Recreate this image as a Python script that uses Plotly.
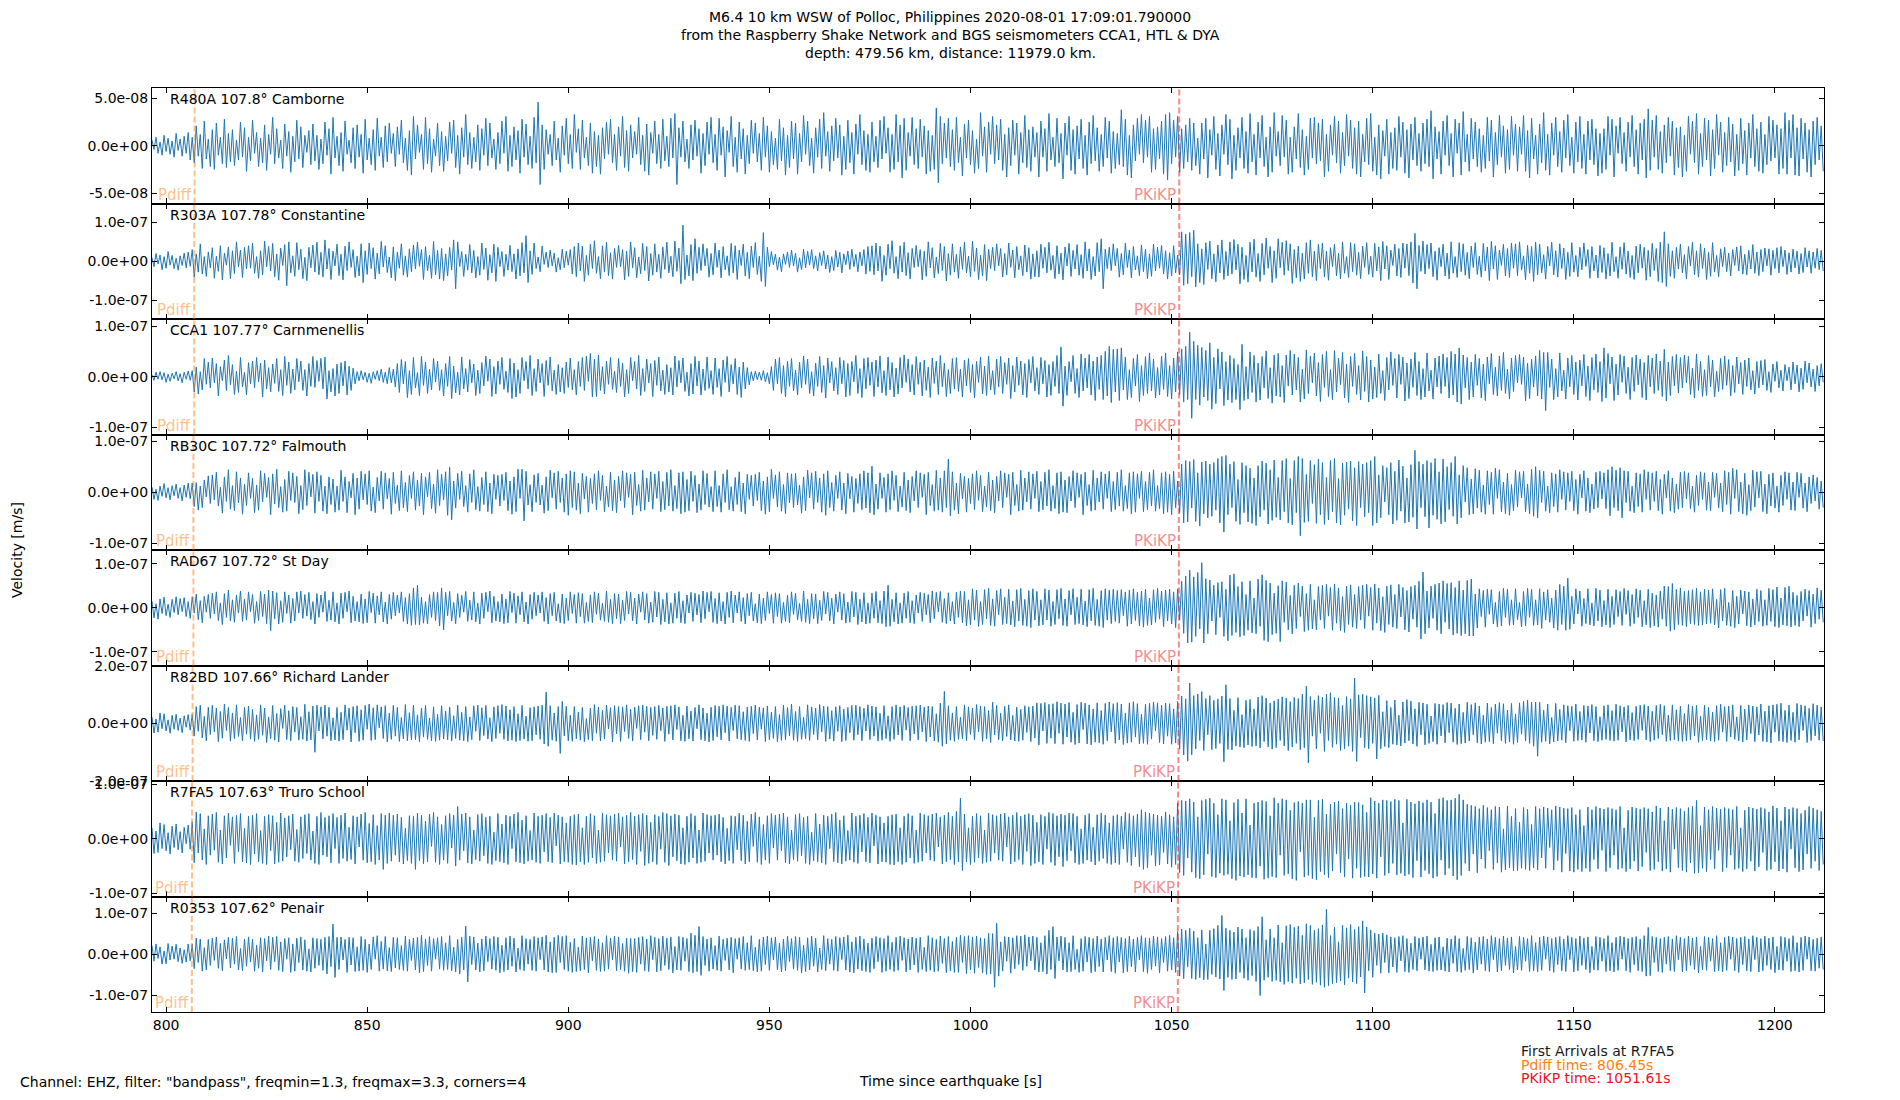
import numpy as np
import plotly.graph_objects as go
from plotly.subplots import make_subplots

# ground velocity, nm/s, one reading every dt seconds from t0
t0 = 796.5
dt = 0.5

r480a = [6,-4,9,-8,4,-10,11,-6,8,-9,5,-12,13,-5,7,-11,10,-8,14,-15,9,-18,21,-11,12,-24,26,-14,7,-22,17,-25,24,-10,9,-19,28,-23,13,-17,
         17,-21,6,-15,25,-12,19,-27,9,-16,27,-8,14,-22,8,-18,22,-26,12,-9,30,-19,18,-13,6,-24,23,-11,15,-28,10,-17,27,-14,20,-23,11,-7,16,-20,
         23,-16,11,-25,7,-19,25,-10,18,-30,30,-13,10,-21,14,-27,26,-9,6,-18,19,-24,22,-12,12,-29,28,-15,8,-20,17,-26,29,-11,9,-23,21,-17,24,-8,
         13,-22,20,-9,27,-18,8,-26,16,-31,31,-14,22,-7,12,-25,30,-19,18,-28,7,-11,24,-21,15,-27,10,-16,25,-8,27,-23,11,-30,19,-12,33,-20,14,-24,
         9,-17,22,-26,18,-10,29,-21,24,-13,7,-25,14,-19,26,-8,31,-27,11,-22,20,-15,16,-29,28,-12,23,-20,10,-24,30,-18,46,-41,22,-25,17,-9,12,-21,
         26,-15,8,-28,21,-10,29,-19,12,-24,33,-7,18,-25,27,-13,9,-21,24,-29,15,-22,11,-30,19,-14,25,-9,28,-18,12,-26,20,-11,31,-23,16,-27,22,-13,
         15,-9,30,-20,11,-27,23,-31,14,-8,26,-19,12,-24,28,-16,10,-22,29,-13,34,-41,19,-12,26,-17,7,-24,22,-15,27,-11,18,-29,13,-21,25,-9,30,-18,
         12,-26,29,-10,20,-33,16,-7,31,-22,9,-28,25,-14,18,-30,11,-19,27,-8,24,-17,13,-26,30,-12,21,-28,15,-20,8,-25,28,-16,19,-31,11,-23,26,-14,
         24,-30,13,-17,32,-9,26,-21,8,-29,19,-12,28,-24,35,-11,15,-27,21,-16,29,-13,22,-31,10,-25,27,-18,14,-30,23,-9,33,-20,16,-26,12,-28,25,-17,
         10,-23,27,-14,31,-8,19,-28,12,-25,33,-17,22,-34,29,-26,14,-11,30,-20,18,-24,28,-12,21,-30,16,-27,11,-25,40,-39,31,-19,24,-13,29,-22,17,-26,
         30,-18,9,-32,23,-13,27,-20,16,-29,7,-24,35,-11,20,-28,25,-9,31,-19,22,-15,28,-26,12,-33,19,-21,27,-10,24,-30,14,-18,32,-23,17,-27,20,-12,
         14,-33,26,-12,18,-27,34,-15,9,-22,29,-18,13,-35,24,-10,31,-26,17,-30,21,-14,28,-24,11,-31,25,-19,32,-16,19,-27,12,-22,30,-13,26,-29,15,-24,
         13,-20,38,-22,28,-31,11,-34,22,-16,29,-9,33,-18,27,-12,31,-28,18,-25,20,-14,26,-30,33,-36,35,-19,27,-12,31,-28,18,-24,22,-17,29,-26,24,-21,
         8,-30,24,-14,29,-34,17,-10,31,-25,13,-32,22,-9,33,-20,28,-35,11,-26,19,-13,30,-24,15,-29,34,-17,12,-31,25,-13,32,-22,9,-33,20,-28,35,-11,
         15,-21,32,-12,27,-30,9,-28,20,-14,34,-23,17,-31,10,-25,29,-13,30,-19,24,-16,28,-33,12,-27,22,-10,31,-18,26,-29,14,-21,33,-11,27,-24,19,-30,
         26,-33,12,-17,29,-20,34,-27,9,-31,22,-35,16,-11,28,-30,14,-24,19,-26,31,-12,25,-29,17,-34,23,-15,30,-21,13,-27,24,-19,28,-22,37,-35,20,-14,
         15,-30,26,-10,32,-21,13,-33,28,-8,24,-31,36,-17,12,-27,29,-14,25,-22,18,-28,11,-24,30,-16,27,-33,14,-20,32,-12,21,-29,17,-25,31,-10,23,-27,
         20,-9,32,-27,16,-34,29,-14,11,-30,23,-18,35,-26,12,-31,24,-10,30,-22,15,-28,27,-13,33,-21,9,-29,25,-17,31,-24,12,-30,26,-15,28,-20,18,-32,
         13,-29,18,-25,31,-10,28,-33,21,-8,30,-19,14,-27,25,-12,32,-22,17,-30,24,-15,28,-34,39,-26,27,-12,32,-25,15,-29,22,-18,30,-11,26,-31,19,-23,
         20,-33,11,-27,31,-9,26,-18,34,-30,13,-22,29,-15,27,-32,17,-24,33,-10,25,-28,14,-21,30,-17,23,-32,12,-26,29,-19,16,-31,24,-13,33,-22,18,-27,
         25,-29,12,-20,31,-16,27,-13,22,-30,18,-24,35,-30,27,-13,33,-31,19,-32,29,-14,24,-28,17,-33,26,-20,30,-15,21,-27]

r303a = [9,-14,20,-7,16,-22,12,-18,25,-10,15,-19,8,-23,14,-11,21,-17,24,-13,30,-41,19,-28,45,-33,12,-39,24,-17,35,-44,13,-26,40,-48,21,-10,37,-45,
         27,-32,50,-15,29,-42,36,-20,40,-18,47,-31,12,-44,27,-35,52,-14,38,-25,46,-40,19,-49,34,-11,43,-63,50,-30,14,-39,48,-22,31,-45,10,-50,36,-17,
         42,-28,49,-35,23,-41,55,-20,33,-47,26,-12,44,-37,18,-48,39,-24,50,-16,30,-42,13,-38,45,-55,27,-34,47,-19,35,-46,21,-33,51,-15,40,-29,11,-43,
         37,-50,24,-18,45,-36,14,-41,32,-27,42,-20,49,-13,30,-47,38,-25,16,-44,51,-35,28,-46,33,-50,19,-38,36,-22,55,-71,50,-14,25,-39,18,-23,43,-30,
         28,-43,12,-36,47,-21,34,-49,17,-30,44,-52,36,-14,25,-39,18,-23,41,-27,19,-46,32,-38,48,-30,66,-55,27,-34,47,-19,11,-27,39,-8,24,-16,29,-12,
         21,-28,9,-22,31,-17,26,-10,30,-33,38,-40,47,-25,39,-52,15,-36,44,-19,53,-31,12,-45,40,-28,49,-37,22,-46,33,-16,41,-14,30,-48,26,-39,50,-17,
         35,-43,11,-32,46,-24,38,-51,20,-36,45,-28,18,-44,37,-21,49,-30,13,-40,52,-26,34,-58,93,-47,16,-38,43,-50,58,-31,36,-24,45,-12,33,-41,20,-35,
         47,-16,29,-43,38,-22,14,-37,46,-30,40,-47,29,-11,44,-38,23,-45,39,-16,48,-34,13,-52,74,-65,36,-14,25,-9,18,-23,11,-27,19,-8,24,-16,29,-12,
         21,-28,9,-22,31,-17,26,-10,30,-19,14,-25,22,-11,27,-20,16,-29,12,-24,28,-15,23,-30,19,-9,26,-21,31,-14,18,-27,24,-12,30,-33,38,-26,40,-35,
         47,-25,39,-52,15,-36,44,-19,53,-31,12,-45,40,-28,49,-37,22,-46,33,-16,41,-14,30,-48,26,-39,50,-17,35,-43,11,-32,46,-24,38,-51,20,-36,45,-28,
         18,-44,37,-21,49,-30,13,-40,52,-26,34,-47,16,-38,43,-50,31,-19,36,-24,45,-12,33,-41,20,-35,47,-16,29,-43,38,-22,14,-37,42,-28,35,-46,19,-40,
         27,-41,44,-18,36,-30,49,-23,15,-45,40,-33,21,-48,37,-12,46,-39,28,-20,43,-36,17,-44,50,-25,32,-47,12,-38,48,-27,58,-71,31,-19,36,-24,45,-12,
         33,-41,20,-35,47,-16,29,-43,38,-22,14,-37,42,-27,31,-45,19,-39,44,-25,36,-18,41,-33,27,-46,22,-38,40,-30,16,-35,76,-62,70,-58,74,-40,80,-66,
         45,-55,32,-60,48,-21,52,-45,19,-53,42,-30,55,-47,25,-38,50,-33,56,-22,44,-58,36,-47,15,-54,49,-28,57,-41,20,-52,46,-35,60,-18,38,-55,27,-44,
         58,-17,49,-36,53,-24,45,-57,30,-43,39,-52,21,-46,48,-31,55,-40,26,-50,44,-19,47,-40,26,-49,35,-14,44,-38,21,-46,50,-31,12,-42,48,-27,45,-36,
         23,-45,39,-16,48,-34,13,-41,46,-25,37,-50,51,-20,40,-47,29,-11,44,-38,33,-42,47,-18,45,-37,50,-56,72,-71,41,-26,52,-33,43,-19,47,-40,26,-49,
         35,-14,44,-38,21,-46,50,-31,12,-42,48,-27,45,-36,23,-45,39,-16,48,-34,13,-41,46,-25,37,-50,51,-20,40,-47,29,-11,44,-38,33,-42,47,-18,45,-37,
         50,-23,14,-48,41,-31,38,-52,49,-35,44,-30,17,-46,38,-12,49,-35,27,-41,45,-19,34,-47,23,-39,48,-28,15,-40,36,-22,47,-13,30,-44,38,-25,16,-43,
         41,-29,35,-46,20,-38,49,-27,12,-44,37,-21,48,-33,26,-42,15,-47,39,-30,44,-18,36,-49,28,-40,46,-24,33,-52,49,-55,76,-65,45,-39,27,-44,36,-20,
         44,-30,17,-46,38,-12,49,-35,27,-41,45,-19,34,-47,23,-39,48,-28,15,-40,32,-14,36,-27,21,-38,30,-11,37,-25,40,-33,18,-35,28,-20,43,-31,24,-37,
         30,-27,34,-12,32,-36,28,-19,35,-30,38,-14,29,-34,22,-28,31,-17,26,-33,20,-29,35,-15,27,-31,24,-18,33,-22,28,-25]

cca1 = [4,-7,9,-5,10,-6,8,-11,5,-9,7,-4,10,-8,6,-12,9,-5,11,-7,12,-30,19,-34,10,-26,36,-15,29,-22,37,-12,26,-38,20,-8,33,-27,42,-16,
        24,-35,11,-31,38,-20,9,-36,28,-14,31,-22,38,-10,27,-40,33,-24,18,-30,25,-13,36,-29,14,-37,40,-17,29,-33,15,-26,36,-10,31,-27,14,-38,26,-19,
        40,-21,32,-9,36,-24,39,-44,12,-30,16,-38,25,-33,28,-18,31,-36,21,-27,17,-14,10,-8,12,-6,9,-11,7,-13,10,-5,12,-8,15,-11,9,-14,18,-12,
        15,-20,26,-31,34,-14,30,-41,12,-35,38,-22,8,-37,40,-17,29,-33,15,-26,36,-10,31,-27,14,-38,26,-19,40,-43,21,-32,9,-36,39,-24,16,-30,34,-12,
        25,-37,13,-33,28,-18,41,-9,35,-39,20,-34,31,-15,38,-25,11,-31,36,-43,27,-40,14,-33,38,-8,30,-24,42,-37,16,-29,35,-12,26,-39,32,-17,39,-28,
        13,-35,24,-30,18,-33,29,-21,37,-26,14,-36,30,-19,38,-27,41,-9,46,-40,35,-39,43,-27,20,-34,31,-15,38,-25,11,-31,36,-19,27,-40,14,-33,38,-8,
        30,-24,42,-37,16,-29,35,-12,26,-39,32,-17,39,-28,13,-35,24,-30,18,-36,41,-20,32,-12,37,-29,9,-38,26,-34,40,-18,31,-36,15,-27,39,-23,12,-35,
        37,-21,16,-39,33,-11,40,-30,24,-14,36,-35,19,-41,29,-24,18,-16,10,-8,11,-6,9,-7,12,-10,8,-14,20,-27,35,-14,38,-33,22,-40,31,-19,36,-28,
        13,-36,29,-22,41,-15,35,-33,10,-38,27,-19,40,-31,22,-42,37,-12,30,-28,18,-35,38,-14,32,-40,26,-37,30,-10,42,-33,16,-41,36,-24,38,-17,29,-39,
        33,-20,41,-32,12,-37,39,-26,28,-40,17,-34,38,-22,43,-11,35,-30,24,-36,40,-15,29,-38,33,-27,19,-41,37,-13,31,-35,42,-20,27,-39,14,-33,36,-24,
        38,-29,15,-40,33,-18,36,-31,24,-42,30,-11,39,-34,21,-37,41,-26,12,-35,35,-20,40,-33,28,-15,37,-43,22,-30,39,-17,31,-36,26,-41,34,-12,40,-28,
        18,-35,38,-14,32,-40,24,-37,30,-19,42,-33,59,-58,21,-37,30,-10,42,-33,16,-41,45,-28,37,-22,44,-36,31,-47,39,-25,42,-45,50,-38,60,-51,54,-30,
        55,-47,57,-26,39,-45,14,-41,36,-18,44,-49,22,-37,40,-33,47,-28,35,-42,18,-36,41,-25,47,-39,22,-44,37,-30,49,-35,55,-50,60,-45,88,-82,70,-45,
        62,-56,58,-40,52,-47,67,-64,38,-53,55,-24,49,-57,30,-46,42,-51,36,-45,24,-65,64,-47,20,-44,49,-31,42,-50,27,-46,40,-22,51,-43,18,-52,43,-38,
        46,-40,22,-51,43,-18,52,-36,45,-26,38,-50,15,-44,53,-33,41,-12,47,-38,28,-49,44,-21,50,-39,14,-45,52,-30,37,-16,48,-42,25,-51,40,-19,46,-35,
        22,-46,51,-29,40,-50,33,-44,19,-41,45,-33,12,-47,38,-26,49,-17,36,-42,44,-15,39,-48,27,-43,35,-21,48,-37,30,-45,16,-40,47,-28,13,-44,37,-20,
        41,-33,45,-19,38,-42,50,-36,45,-50,57,-54,43,-22,38,-45,29,-40,44,-17,36,-42,25,-47,39,-14,46,-35,19,-38,41,-27,48,-33,15,-44,37,-29,42,-12,
        44,-15,39,-48,27,-43,35,-20,41,-38,52,-44,48,-67,48,-21,35,-45,16,-40,47,-28,13,-44,37,-20,42,-35,29,-46,33,-18,44,-39,21,-47,38,-26,45,-31,
        30,-49,57,-42,46,-14,39,-47,25,-36,44,-11,41,-33,19,-45,38,-29,43,-16,35,-41,28,-46,42,-20,37,-33,45,-27,31,-39,54,-48,29,-37,40,-18,44,-32,
        38,-22,43,-12,40,-35,17,-42,45,-27,31,-39,14,-37,42,-20,33,-40,11,-29,36,-25,41,-17,34,-38,22,-31,39,-14,28,-35,33,-19,37,-26,12,-34,30,-22,
        32,-16,34,-27,10,-31,25,-9,30,-22,13,-28,24,-8,19,-26,29,-14,23,-30,17,-25,31,-12,27,-20,15,-29,22,-18,26,-11]

rb30c = [10,-14,6,-16,12,-8,17,-11,9,-15,13,-7,16,-12,9,-17,14,-10,18,-13,18,-28,19,-35,12,-30,24,-9,32,-22,34,-15,39,-27,10,-41,30,-18,44,-33,
         13,-36,40,-21,28,-43,16,-26,38,-12,27,-40,14,-35,42,-19,37,-10,29,-44,36,-23,45,-30,11,-39,25,-37,41,-16,38,-20,31,-42,13,-34,44,-26,39,-9,
         35,-41,40,-18,33,-37,12,-42,30,-24,26,-39,12,-35,43,-18,30,-40,21,-11,37,-44,28,-33,41,-15,36,-24,42,-37,10,-40,29,-17,41,-33,38,-13,27,-43,
         39,-22,14,-36,42,-30,19,-38,33,-12,40,-35,24,-27,37,-44,30,-9,39,-32,16,-41,44,-26,35,-15,40,-45,49,-54,22,-31,37,-14,41,-28,13,-39,36,-20,
         44,-34,11,-37,29,-24,40,-38,18,-42,35,-14,33,-27,35,-16,39,-36,22,-43,30,-38,45,-12,45,-56,41,-25,15,-38,34,-20,37,-25,14,-41,30,-36,43,-11,
         38,-33,41,-20,28,-39,36,-45,42,-30,40,-35,18,-42,37,-13,31,-39,27,-22,36,-34,42,-16,33,-38,12,-29,39,-36,24,-40,31,-17,42,-30,38,-10,35,-44,
         39,-26,15,-37,43,-35,28,-19,40,-33,36,-12,41,-38,21,-34,39,-27,44,-37,13,-32,38,-42,40,-39,25,-36,41,-18,33,-40,16,-35,42,-24,37,-29,11,-38,
         42,-28,13,-39,36,-20,44,-34,11,-37,29,-24,40,-38,18,-42,35,-14,33,-27,35,-16,39,-36,22,-43,30,-38,45,-12,34,-29,40,-37,15,-42,38,-21,36,-30,
         37,-25,14,-41,30,-36,43,-11,38,-33,41,-20,28,-39,36,-45,42,-30,19,-37,33,-12,40,-35,18,-42,37,-13,31,-39,27,-22,36,-34,42,-31,38,-40,51,-44,
         16,-33,38,-12,29,-39,36,-34,42,-16,33,-38,12,-29,39,-36,24,-40,31,-17,42,-30,38,-10,35,-44,39,-26,15,-37,43,-35,28,-39,42,-30,65,-46,40,-35,
         18,-42,37,-13,31,-39,27,-22,36,-34,42,-16,33,-38,12,-29,39,-36,24,-40,31,-17,42,-30,38,-10,35,-44,39,-26,15,-37,43,-35,28,-19,40,-33,36,-12,
         41,-38,21,-34,39,-27,44,-37,13,-32,38,-42,40,-39,24,-40,31,-17,42,-30,38,-10,35,-44,39,-26,15,-37,43,-35,28,-19,40,-33,36,-12,41,-38,21,-34,
         39,-27,44,-37,13,-32,38,-42,40,-39,36,-12,41,-38,21,-34,39,-27,44,-37,13,-32,38,-42,40,-39,35,-44,41,-30,22,-40,55,-60,62,-58,60,-31,64,-57,
         38,-66,59,-42,61,-50,55,-47,58,-35,66,-60,70,-78,72,-44,55,-30,60,-57,25,-63,58,-40,52,-58,47,-61,28,-65,52,-48,61,-35,57,-62,44,-55,63,-49,
         29,-54,62,-38,66,-60,27,-64,62,-40,70,-85,66,-59,35,-57,62,-22,54,-61,65,-44,58,-63,29,-54,62,-38,66,-60,27,-64,57,-45,59,-33,61,-56,48,-65,
         60,-30,55,-48,58,-40,62,-65,70,-60,34,-50,52,-19,48,-44,58,-62,41,-55,63,-37,51,-60,28,-58,54,-49,82,-72,60,-30,55,-48,62,-70,58,-45,66,-53,
         40,-62,65,-58,50,-34,58,-47,70,-62,34,-50,52,-19,48,-44,26,-42,46,-31,43,-39,14,-43,42,-24,39,-43,47,-12,44,-38,20,-42,37,-45,15,-36,43,-29,
         40,-11,41,-38,16,-42,45,-47,50,-50,43,-20,41,-37,12,-40,38,-28,36,-39,44,-14,40,-35,38,-18,41,-36,25,-43,35,-11,42,-37,28,-40,16,-33,39,-30,
         41,-13,38,-32,44,-46,50,-30,43,-36,48,-50,42,-20,41,-37,12,-40,38,-28,36,-39,44,-14,40,-35,38,-18,41,-36,25,-43,35,-11,42,-37,28,-40,16,-33,
         39,-30,41,-13,38,-32,12,-39,33,-26,40,-14,38,-35,20,-36,39,-10,37,-31,18,-38,42,-24,39,-43,47,-12,44,-38,20,-42,37,-45,15,-36,43,-29,40,-11,
         41,-38,16,-42,35,-27,38,-31,12,-39,33,-26,40,-14,38,-35,20,-36,39,-10,37,-31,18,-38,30,-22,34,-17,29,-33,22,-30]

rad67 = [15,-23,9,-26,20,-13,24,-18,8,-22,19,-11,25,-16,21,-9,23,-20,14,-24,25,-12,31,-27,16,-34,26,-10,30,-24,33,-14,36,-29,11,-38,32,-22,40,-30,
         18,-33,29,-12,38,-31,20,-28,36,-9,30,-35,14,-29,37,-20,31,-36,40,-52,38,-25,34,-37,16,-33,36,-13,29,-35,21,-30,36,-12,38,-24,30,-19,35,-27,
         14,-37,32,-22,29,-10,37,-31,17,-28,36,-32,11,-37,33,-24,35,-9,38,-34,26,-30,14,-32,31,-36,20,-34,37,-11,33,-35,27,-16,36,-32,13,-37,30,-26,
         35,-18,29,-12,36,-31,23,-37,32,-40,45,-38,51,-39,24,-35,14,-37,30,-22,36,-29,35,-41,45,-50,35,-18,37,-30,12,-36,32,-22,29,-10,37,-31,17,-28,
         36,-32,11,-37,33,-24,35,-9,38,-34,26,-30,14,-32,31,-36,20,-34,37,-11,33,-35,27,-16,36,-32,13,-37,30,-26,35,-18,29,-12,36,-31,23,-37,32,-18,
         35,-30,9,-34,31,-36,22,-29,36,-13,30,-35,34,-20,32,-35,12,-31,29,-34,36,-15,33,-28,10,-31,38,-33,19,-36,32,-25,31,-36,17,-29,37,-14,35,-30,
         22,-37,31,-10,36,-28,32,-35,13,-33,37,-21,35,-38,19,-32,34,-37,11,-35,33,-24,37,-34,16,-36,29,-12,35,-31,33,-16,30,-34,38,-25,35,-9,37,-33,
         21,-36,34,-30,14,-37,35,-22,38,-34,29,-12,36,-31,23,-37,32,-18,35,-30,9,-34,31,-36,22,-29,36,-13,30,-35,34,-20,32,-35,12,-31,29,-34,36,-15,
         33,-28,10,-31,38,-33,19,-36,32,-25,31,-36,17,-29,37,-14,35,-30,22,-37,31,-10,36,-28,32,-35,13,-33,37,-21,35,-38,19,-32,34,-37,11,-35,33,-24,
         37,-34,16,-36,38,-43,51,-42,19,-32,34,-37,11,-35,33,-24,37,-34,16,-36,29,-12,35,-31,33,-16,30,-34,38,-25,35,-9,37,-33,21,-36,34,-30,14,-37,
         35,-22,38,-34,37,-41,18,-39,43,-28,40,-42,14,-38,41,-25,44,-40,20,-42,39,-16,43,-38,24,-36,42,-39,15,-43,41,-30,44,-40,19,-42,39,-45,43,-28,
         37,-41,18,-39,43,-28,40,-42,14,-38,41,-25,44,-40,20,-42,39,-16,43,-38,24,-36,42,-39,15,-43,41,-30,44,-40,19,-42,39,-45,43,-28,40,-36,42,-31,
         39,-35,41,-18,36,-42,40,-37,43,-29,35,-41,38,-44,42,-40,22,-39,41,-33,44,-26,38,-43,40,-30,42,-37,36,-45,43,-28,60,-58,72,-80,85,-78,70,-65,
         80,-48,102,-80,66,-59,63,-30,51,-61,57,-22,59,-65,42,-75,74,-63,77,-56,48,-66,59,-63,30,-51,61,-57,22,-59,65,-42,75,-74,62,-77,56,-61,33,-58,
         50,-77,61,-33,58,-50,28,-59,51,-47,56,-20,49,-54,32,-51,53,-48,18,-50,48,-28,51,-47,53,-19,46,-51,54,-35,45,-52,25,-56,49,-38,52,-44,30,-47,
         48,-28,51,-47,53,-19,46,-51,54,-35,45,-52,25,-56,49,-38,52,-44,30,-47,53,-21,46,-50,39,-55,48,-26,51,-44,60,-71,81,-59,38,-46,49,-24,53,-51,
         56,-59,61,-33,55,-48,57,-62,46,-58,61,-63,40,-59,62,-64,65,-64,31,-46,43,-20,39,-44,42,-15,41,-37,12,-43,37,-41,44,-22,42,-40,18,-39,43,-27,
         12,-43,37,-41,44,-22,42,-40,18,-39,43,-47,36,-28,41,-33,22,-46,40,-51,53,-38,49,-51,67,-49,26,-37,43,-14,38,-42,21,-36,43,-39,11,-41,44,-30,
         40,-43,16,-39,42,-45,26,-38,41,-20,37,-40,44,-15,39,-42,30,-36,43,-22,40,-43,16,-39,42,-45,33,-41,29,-44,38,-26,49,-42,48,-53,55,-50,42,-38,
         45,-40,37,-43,39,-36,41,-38,44,-40,36,-39,42,-37,40,-35,43,-39,19,-46,41,-30,44,-40,12,-42,39,-45,26,-37,40,-14,38,-41,36,-44,20,-39,42,-31,
         39,-42,18,-40,44,-31,41,-43,47,-45,22,-39,46,-41,49,-44,35,-40,28,-43,37,-30,42,-19,39,-44,31,-36,45,-26,40,-33]

r82bd = [22,-34,15,-31,36,-19,33,-27,12,-35,28,-21,31,-25,18,-33,26,-14,30,-24,31,-45,58,-28,63,-51,24,-61,56,-39,62,-30,53,-64,41,-52,67,-25,55,-62,
         36,-53,64,-46,20,-61,56,-38,60,-55,48,-63,29,-56,64,-42,53,-67,22,-54,62,-59,34,-65,51,-18,63,-57,44,-61,58,-31,55,-59,23,-56,66,-62,40,-58,
         60,-101,63,-27,57,-54,63,-45,56,-61,19,-58,55,-62,38,-57,64,-24,53,-65,58,-33,61,-63,47,-59,62,-21,67,-60,54,-57,64,-16,57,-53,61,-65,35,-56,
         62,-45,55,-63,20,-54,65,-61,37,-58,63,-57,29,-64,53,-48,62,-56,18,-61,57,-63,31,-59,61,-55,42,-58,56,-62,26,-53,63,-59,38,-61,58,-64,22,-57,
         61,-28,63,-60,54,-43,62,-55,19,-64,57,-53,61,-35,65,-56,60,-62,47,-59,58,-64,33,-60,62,-55,25,-63,54,-61,57,-40,60,-56,63,-72,109,-80,61,-59,
         36,-63,58,-105,76,-44,59,-61,28,-63,58,-54,39,-59,55,-64,16,-57,53,-61,65,-35,56,-62,45,-55,63,-20,54,-65,61,-37,58,-63,57,-29,64,-53,48,-62,
         56,-18,61,-57,63,-31,59,-61,55,-42,58,-56,62,-26,53,-63,59,-38,61,-58,64,-22,57,-61,28,-63,60,-54,43,-62,55,-19,64,-57,53,-61,35,-65,56,-60,
         62,-47,59,-58,64,-33,60,-62,55,-25,63,-54,61,-57,40,-60,56,-63,59,-36,63,-58,56,-21,54,-64,60,-57,39,-53,58,-65,30,-60,63,-58,55,-44,67,-59,
         41,-63,58,-56,21,-54,64,-60,57,-39,53,-58,65,-30,60,-63,58,-55,44,-62,57,-28,61,-64,49,-60,55,-33,62,-59,63,-40,58,-61,52,-27,64,-57,60,-45,
         57,-62,35,-59,61,-53,26,-63,58,-56,64,-41,57,-60,62,-24,55,-61,59,-37,61,-58,63,-30,56,-64,60,-48,58,-62,33,-66,70,-80,111,-72,61,-59,36,-63,
         58,-56,21,-54,64,-60,57,-39,53,-58,65,-30,60,-63,58,-55,44,-67,73,-41,62,-57,35,-61,59,-46,64,-58,27,-62,56,-63,48,-59,61,-32,57,-64,60,-51,
         71,-76,69,-27,72,-70,66,-52,68,-71,75,-35,70,-73,67,-48,72,-66,38,-74,65,-69,73,-22,70,-72,64,-75,50,-66,71,-68,44,-73,69,-61,74,-30,68,-70,
         72,-58,67,-74,35,-69,71,-66,75,-48,68,-72,31,-70,66,-73,69,-55,74,-26,71,-67,63,-72,70,-45,68,-73,50,-69,76,-90,95,-110,85,-132,140,-110,96,-89,
         102,-60,110,-95,86,-40,96,-92,80,-88,85,-70,95,-134,134,-91,86,-93,45,-79,89,-83,30,-85,80,-76,83,-81,50,-79,91,-86,96,-64,88,-82,70,-90,78,-85,
         84,-60,92,-79,88,-95,75,-83,90,-70,86,-92,101,-85,129,-138,93,-45,81,-89,96,-35,91,-98,101,-60,106,-84,90,-73,88,-95,62,-89,93,-80,85,-98,157,-133,
         99,-50,101,-85,96,-89,92,-70,88,-124,97,-89,40,-81,79,-85,55,-73,81,-76,28,-79,74,-69,82,-61,77,-72,50,-80,73,-40,71,-75,66,-70,25,-64,69,-73,
         67,-44,65,-68,72,-33,70,-66,52,-74,67,-71,38,-69,73,-62,65,-40,71,-68,60,-72,28,-66,70,-64,55,-71,67,-35,72,-61,68,-70,46,-65,69,-73,31,-67,
         71,-38,76,-62,81,-70,73,-80,74,-115,73,-66,45,-63,67,-71,20,-65,69,-62,48,-59,64,-68,61,-26,59,-63,67,-60,41,-58,62,-66,60,-34,65,-61,58,-64,
         23,-59,61,-56,64,-60,44,-62,66,-59,61,-30,57,-65,62,-58,37,-61,59,-56,63,-25,65,-58,60,-64,42,-59,62,-53,66,-40,61,-63,28,-60,64,-57,47,-62,
         59,-63,34,-61,65,-58,60,-44,62,-66,25,-60,63,-57,55,-62,39,-64,61,-59,66,-31,58,-63,60,-48,64,-56,22,-61,62,-65,49,-58,63,-36,60,-64,57,-41,
         67,-63,42,-65,61,-68,64,-31,66,-62,70,-64,45,-67,63,-60,38,-66,69,-58,64,-25,61,-67,52,-60,68,-44,63,-59,57,-62]

r7fa5 = [20,-27,14,-25,29,-18,26,-22,11,-28,23,-16,27,-20,13,-26,21,-9,25,-19,31,-44,49,-26,46,-39,18,-47,42,-30,45,-21,48,-43,16,-46,42,-35,47,-12,
         40,-45,43,-24,46,-42,19,-44,41,-47,43,-28,46,-42,15,-45,41,-47,44,-22,42,-46,30,-43,47,-41,38,-33,42,-20,45,-41,17,-43,40,-36,44,-27,46,-39,
         14,-45,41,-47,48,-30,39,-33,42,-44,46,-18,39,-45,43,-36,47,-41,21,-38,42,-46,40,-15,45,-39,48,-44,28,-42,44,-47,24,-39,46,-56,43,-45,47,-41,
         43,-30,45,-42,39,-46,19,-40,42,-45,41,-56,47,-40,43,-46,32,-42,45,-14,48,-43,40,-47,26,-39,42,-45,46,-17,43,-50,59,-39,45,-22,47,-44,40,-46,
         16,-38,44,-41,46,-31,39,-45,41,-47,12,-40,46,-42,27,-44,43,-47,41,-18,45,-42,48,-44,34,-46,42,-41,15,-39,47,-43,41,-45,43,-24,46,-42,39,-44,
         47,-13,43,-46,40,-42,29,-43,41,-47,44,-48,45,-42,20,-47,41,-43,46,-35,42,-45,16,-43,47,-41,44,-26,42,-39,45,-41,47,-15,40,-46,43,-42,48,-38,
         41,-47,44,-23,46,-49,43,-45,30,-42,44,-47,41,-19,48,-43,46,-49,42,-33,45,-40,43,-46,20,-47,41,-43,46,-35,42,-45,16,-43,47,-41,44,-26,42,-39,
         43,-30,45,-42,39,-46,19,-40,42,-45,41,-20,47,-40,43,-46,32,-42,45,-14,48,-43,40,-47,26,-39,42,-45,46,-17,43,-39,45,-22,47,-44,40,-46,16,-38,
         44,-41,46,-31,39,-45,41,-47,12,-40,46,-42,27,-44,43,-47,41,-18,45,-42,48,-44,34,-46,42,-41,15,-39,47,-43,41,-45,43,-24,46,-42,39,-44,47,-13,
         43,-46,40,-42,29,-43,41,-47,44,-48,45,-42,20,-47,41,-43,46,-35,42,-45,16,-43,47,-41,44,-26,42,-39,45,-41,47,-15,40,-46,43,-42,48,-38,41,-47,
         50,-42,74,-58,45,-42,20,-47,41,-43,46,-35,42,-45,16,-43,47,-41,44,-26,42,-39,45,-41,47,-15,40,-46,43,-42,48,-38,41,-47,44,-23,46,-49,43,-45,
         30,-42,44,-47,41,-19,48,-43,46,-49,42,-33,45,-51,43,-40,47,-22,46,-44,41,-47,18,-45,43,-39,46,-42,21,-48,44,-41,47,-36,43,-45,29,-47,42,-44,
         44,-47,41,-19,48,-43,46,-49,42,-33,45,-51,53,-56,49,-53,47,-30,45,-50,43,-48,41,-25,49,-46,44,-52,40,-47,65,-62,70,-67,69,-35,73,-61,67,-71,
         40,-73,70,-66,72,-28,74,-69,65,-71,44,-63,73,-67,71,-65,33,-73,66,-76,72,-68,47,-70,73,-66,25,-71,65,-72,67,-50,70,-74,68,-72,42,-69,75,-71,
         65,-30,73,-67,71,-64,52,-73,66,-76,68,-24,65,-70,71,-67,71,-73,39,-75,70,-60,72,-66,45,-71,63,-59,67,-28,69,-62,55,-70,65,-37,61,-72,67,-54,
         66,-71,62,-69,48,-70,75,-64,69,-72,65,-33,71,-67,70,-63,68,-45,72,-66,70,-63,29,-68,72,-65,67,-71,64,-40,69,-70,66,-58,71,-64,67,-72,46,-69,
         73,-39,75,-66,70,-54,71,-68,74,-75,81,-67,71,-45,63,-59,61,-28,59,-62,55,-37,61,-54,57,-22,53,-56,59,-44,58,-61,18,-57,60,-53,41,-59,55,-58,
         30,-54,57,-56,54,-58,26,-53,59,-57,55,-35,58,-54,56,-16,53,-57,60,-40,58,-61,56,-27,55,-59,57,-61,44,-56,53,-60,24,-54,58,-60,53,-38,59,-55,
         56,-21,54,-60,57,-53,55,-30,53,-56,59,-54,20,-60,52,-55,58,-41,56,-59,54,-51,57,-25,55,-58,49,-56,60,-42,56,-59,33,-55,58,-61,54,-19,57,-53,
         55,-58,50,-61,57,-44,59,-63,70,-62,24,-54,58,-60,53,-38,59,-55,56,-21,54,-60,57,-53,55,-30,53,-56,59,-54,20,-60,52,-55,58,-41,56,-59,54,-51,
         57,-25,55,-58,49,-56,60,-42,56,-59,33,-55,58,-61,54,-19,57,-53,55,-60,46,-57,52,-28,59,-54,56,-41,53,-58,50,-47]

r0353 = [21,-17,25,-10,18,-24,8,-23,26,-14,20,-12,24,-18,15,-22,11,-19,25,-16,25,-35,39,-20,37,-41,16,-38,36,-27,39,-15,42,-34,26,-40,35,-11,41,-33,
         39,-24,43,-38,14,-40,37,-29,42,-19,36,-41,22,-34,40,-43,38,-16,44,-37,41,-18,43,-39,30,-42,38,-12,40,-44,25,-41,39,-20,42,-38,35,-41,13,-43,
         40,-34,38,-27,36,-39,41,-48,43,-30,73,-56,41,-37,42,-14,36,-44,41,-26,40,-42,18,-41,43,-39,36,-44,25,-37,42,-12,45,-41,31,-36,43,-40,16,-42,
         41,-33,40,-37,21,-39,44,-41,36,-15,39,-38,41,-45,46,-42,37,-27,43,-41,38,-12,40,-36,43,-39,28,-37,45,-40,17,-43,36,-48,41,-38,68,-67,44,-25,
         42,-38,27,-43,37,-40,44,-18,38,-36,43,-39,41,-45,22,-42,40,-38,44,-29,39,-43,15,-37,45,-40,38,-24,36,-39,43,-41,40,-13,42,-38,46,-43,30,-45,
         41,-44,46,-20,43,-37,45,-41,29,-44,38,-42,17,-40,44,-37,39,-45,41,-16,43,-39,37,-42,28,-41,45,-36,39,-14,44,-40,42,-37,26,-41,39,-46,38,-42,
         38,-44,41,-24,43,-40,37,-42,45,-13,41,-43,38,-40,44,-27,39,-37,42,-45,19,-38,43,-39,41,-17,38,-42,51,-45,46,-42,67,-51,43,-27,37,-41,40,-36,
         21,-39,44,-41,36,-15,39,-38,41,-45,38,-12,40,-36,43,-39,28,-37,45,-40,17,-43,36,-41,42,-25,44,-39,40,-14,42,-38,27,-43,37,-40,44,-18,38,-36,
         43,-39,41,-45,22,-42,40,-38,44,-29,39,-43,15,-37,45,-40,38,-24,36,-39,43,-41,40,-13,42,-38,46,-43,30,-45,41,-36,44,-40,37,-42,27,-44,39,-35,
         43,-18,40,-44,38,-41,45,-37,29,-42,41,-39,44,-15,40,-43,37,-38,42,-26,39,-44,41,-37,17,-42,45,-39,40,-43,36,-41,44,-22,38,-45,43,-40,31,-44,
         41,-44,46,-20,43,-47,45,-38,42,-46,44,-32,40,-45,38,-49,51,-48,50,-80,75,-53,30,-41,43,-17,42,-46,40,-35,45,-25,44,-39,47,-29,42,-16,44,-38,
         41,-43,28,-42,45,-48,58,-37,67,-59,42,-16,44,-38,41,-43,28,-42,45,-37,12,-44,38,-41,43,-19,41,-45,38,-42,44,-30,37,-43,41,-14,45,-42,40,-46,
         43,-19,41,-45,38,-42,44,-30,37,-43,41,-14,45,-42,40,-46,39,-37,44,-28,42,-45,38,-20,43,-41,46,-38,40,-44,55,-53,61,-59,58,-30,63,-59,56,-61,
         40,-57,59,-62,25,-61,58,-49,62,-55,70,-60,94,-88,63,-56,58,-61,54,-60,66,-44,61,-58,40,-63,60,-52,57,-66,67,-100,91,-63,35,-56,61,-66,40,-63,
         71,-67,28,-73,69,-66,72,-70,65,-58,68,-72,46,-69,74,-61,70,-73,58,-68,62,-75,71,-80,109,-76,45,-71,66,-69,30,-65,70,-74,64,-58,72,-67,60,-71,
         67,-55,81,-94,66,-40,59,-56,51,-27,49,-46,51,-20,47,-45,42,-31,40,-44,43,-16,45,-42,38,-44,27,-37,43,-40,39,-12,42,-38,44,-41,24,-42,40,-39,
         42,-38,18,-41,39,-43,37,-22,45,-42,38,-44,14,-39,43,-37,40,-45,29,-38,41,-24,43,-40,37,-42,45,-13,41,-43,38,-40,44,-27,39,-37,42,-45,19,-38,
         43,-39,41,-17,38,-42,45,-40,28,-43,41,-39,44,-12,42,-40,38,-44,41,-25,43,-40,37,-42,45,-13,41,-43,38,-40,44,-27,39,-37,42,-45,19,-38,43,-39,
         41,-17,38,-42,45,-40,28,-43,41,-39,44,-12,42,-40,38,-44,41,-25,43,-40,37,-42,45,-53,65,-52,43,-20,41,-42,38,-44,41,-24,43,-40,37,-42,45,-13,
         41,-43,38,-40,44,-27,39,-37,42,-45,19,-38,43,-39,41,-17,38,-42,45,-40,28,-43,41,-39,44,-12,42,-40,38,-44,41,-25,43,-40,37,-42,45,-13,41,-43,
         38,-40,44,-27,39,-37,42,-45,19,-38,43,-39,41,-17,38,-42,45,-40,28,-43,41,-39,44,-12,42,-40,36,-41,39,-34,42,-37]

stations = ["R480A", "R303A", "CCA1", "RB30C", "RAD67", "R82BD", "R7FA5", "R0353"]
distances = ["107.8", "107.78", "107.77", "107.72", "107.72", "107.66", "107.63", "107.62"]
places = ["Camborne", "Constantine", "Carnmenellis", "Falmouth", "St Day",
          "Richard Lander", "Truro School", "Penair"]
pdiff_times = [807.1, 807.0, 807.0, 806.8, 806.8, 806.6, 806.45, 806.4]
pkikp_times = [1051.9, 1051.9, 1051.85, 1051.8, 1051.8, 1051.7, 1051.61, 1051.55]
ylims = [6.1e-8, 1.49e-7, 1.14e-7, 1.13e-7, 1.31e-7, 2.01e-7, 1.055e-7, 1.4e-7]
ysteps = [5e-8, 1e-7, 1e-7, 1e-7, 1e-7, 2e-7, 1e-7, 1e-7]

traces = [r480a, r303a, cca1, rb30c, rad67, r82bd, r7fa5, r0353]

# page pixels of the plot area; the page body adds an 8px offset
OFF = 8
W, H = 1900 - 2 * OFF, 1100 - 2 * OFF
PL, PR, PT, PB = 152, 1824, 88, 1012


def px(x):
    return (x - PL) / (PR - PL)


def py(y):
    return (PB - y) / (PB - PT)


FONT = "DejaVu Sans"
PD_COL = "rgba(255,127,14,0.5)"
PK_COL = "rgba(240,40,40,0.55)"

fig = make_subplots(rows=8, cols=1, shared_xaxes=True, vertical_spacing=0)

for i, vals in enumerate(traces):
    v = np.array(vals) * 1e-9
    t = t0 + dt * np.arange(len(v))
    fig.add_trace(go.Scatter(x=t, y=v, mode="lines",
                             line=dict(color="#1f77b4", width=1),
                             showlegend=False, hoverinfo="skip"),
                  row=i + 1, col=1)
    s = ysteps[i]
    fig.update_yaxes(range=[-ylims[i], ylims[i]], tickvals=[-s, 0, s],
                     ticktext=[f"{-s:.1e}", f"{0.0:.1e}", f"{s:.1e}"],
                     row=i + 1, col=1)

    xr = "x" if i == 0 else f"x{i + 1}"
    yd = "y domain" if i == 0 else f"y{i + 1} domain"
    for tt, col, lab in [(pdiff_times[i], PD_COL, "Pdiff"), (pkikp_times[i], PK_COL, "PKiKP")]:
        fig.add_shape(type="line", xref=xr, yref=yd, x0=tt, x1=tt, y0=0, y1=1,
                      line=dict(color=col, width=2, dash="6px,3px"))
        fig.add_annotation(x=tt, y=0, xref=xr, yref=yd, text=lab, showarrow=False,
                           xanchor="right", yanchor="bottom", xshift=-1, yshift=-2,
                           font=dict(family=FONT, size=15, color=col))
    fig.add_annotation(x=800.6, y=1, xref=xr, yref=yd,
                       text=f"{stations[i]} {distances[i]}° {places[i]}",
                       showarrow=False, xanchor="left", yanchor="top", yshift=-1,
                       font=dict(family=FONT, size=14, color="black"))

fig.update_xaxes(range=[796.5, 1212.2], tick0=800, dtick=50, ticks="inside", ticklen=5,
                 tickcolor="black", showline=True, linecolor="black", linewidth=1.3,
                 mirror="ticks", showgrid=False, zeroline=False,
                 tickfont=dict(family=FONT, size=14, color="black"))
fig.update_yaxes(ticks="inside", ticklen=5, tickcolor="black", showline=True,
                 linecolor="black", linewidth=1.3, mirror="ticks", showgrid=False,
                 zeroline=False, tickfont=dict(family=FONT, size=14, color="black"))

title_lines = ["M6.4 10 km WSW of Polloc, Philippines 2020-08-01 17:09:01.790000",
               "from the Raspberry Shake Network and BGS seismometers CCA1, HTL & DYA",
               "depth: 479.56 km, distance: 11979.0 km."]
for k, line in enumerate(title_lines):
    fig.add_annotation(x=px(950), y=py(17 + 18 * k), xref="paper", yref="paper",
                       text=line, showarrow=False, xanchor="center", yanchor="middle",
                       font=dict(family=FONT, size=14, color="black"))

fig.add_annotation(x=px(17), y=py(550), xref="paper", yref="paper", text="Velocity [m/s]",
                   textangle=-90, showarrow=False, xanchor="center", yanchor="middle",
                   font=dict(family=FONT, size=14, color="black"))
fig.add_annotation(x=px(950), y=py(1081), xref="paper", yref="paper",
                   text="Time since earthquake [s]", showarrow=False,
                   xanchor="center", yanchor="middle",
                   font=dict(family=FONT, size=14, color="black"))
fig.add_annotation(x=px(18), y=py(1082), xref="paper", yref="paper",
                   text='Channel: EHZ, filter: "bandpass", freqmin=1.3, freqmax=3.3, corners=4',
                   showarrow=False, xanchor="left", yanchor="middle",
                   font=dict(family=FONT, size=14, color="black"))

arrivals = [("First Arrivals at R7FA5", "#1a1a1a"),
            ("Pdiff time: 806.45s", "#ff7f0e"),
            ("PKiKP time: 1051.61s", "#e8141e")]
for k, (txt, col) in enumerate(arrivals):
    fig.add_annotation(x=px(1519), y=py(1051 + 13.5 * k), xref="paper", yref="paper",
                       text=txt, showarrow=False, xanchor="left", yanchor="middle",
                       font=dict(family=FONT, size=14, color=col))

fig.update_layout(width=W, height=H, paper_bgcolor="white", plot_bgcolor="white",
                  margin=dict(l=PL - OFF, r=W - (PR - OFF), t=PT - OFF, b=H - (PB - OFF), pad=0),
                  font=dict(family=FONT, size=14, color="black"))

fig.write_html("out.html")
